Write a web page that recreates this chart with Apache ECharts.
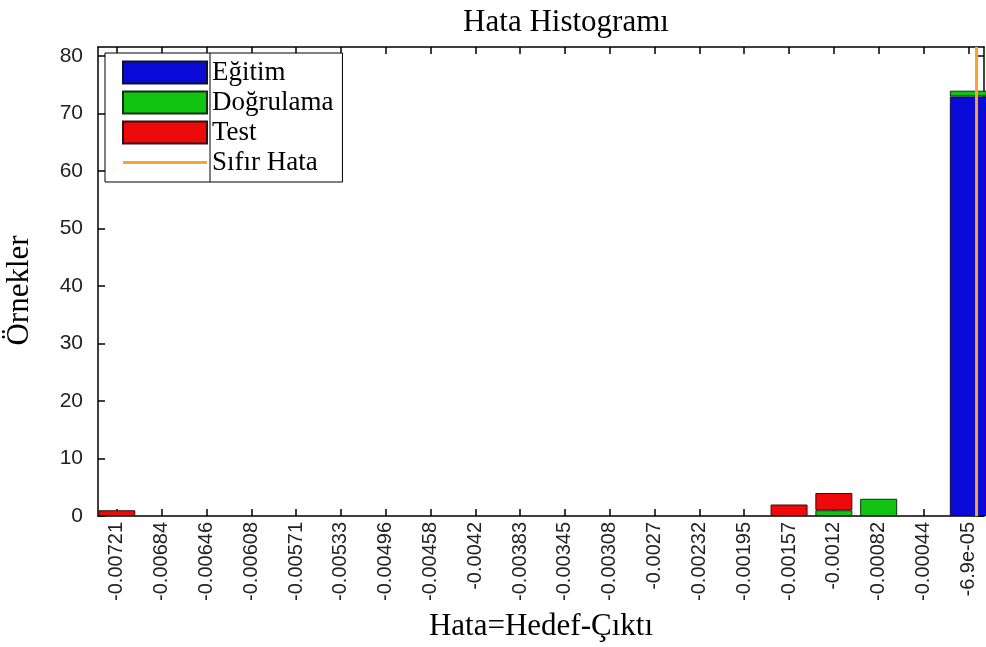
<!DOCTYPE html>
<html>
<head>
<meta charset="utf-8">
<script src="https://cdn.jsdelivr.net/npm/echarts@6/dist/echarts.min.js"></script>
<style>
  html, body { margin: 0; padding: 0; background: #fff; }
  #chart { width: 986px; height: 647px; }
</style>
</head>
<body>
<div id="chart"></div>
<script>
// bin centres (error = target - output)
const binLabels = ['-0.00721', '-0.00684', '-0.00646', '-0.00608', '-0.00571', '-0.00533', '-0.00496',
  '-0.00458', '-0.0042', '-0.00383', '-0.00345', '-0.00308', '-0.0027', '-0.00232', '-0.00195',
  '-0.00157', '-0.0012', '-0.00082', '-0.00044', '-6.9e-05'];
const training   = [0, 0, 0, 0, 0, 0, 0, 0, 0, 0, 0, 0, 0, 0, 0, 0, 0, 0, 0, 73];
const validation = [0, 0, 0, 0, 0, 0, 0, 0, 0, 0, 0, 0, 0, 0, 0, 0, 1, 3, 0, 1];
const test       = [1, 0, 0, 0, 0, 0, 0, 0, 0, 0, 0, 0, 0, 0, 0, 2, 3, 0, 0, 0];
const yTicks = [0, 10, 20, 30, 40, 50, 60, 70, 80];
const yMax = 81.6;

// where error = 0 falls, in bin-index units
const first = parseFloat(binLabels[0]);
const last = parseFloat(binLabels[binLabels.length - 1]);
const binStep = (last - first) / (binLabels.length - 1);
const zeroPos = (0 - first) / binStep;

const idx = binLabels.map((_, i) => i);
// count first, bin index second, so the stack adds up the counts
const toPairs = arr => arr.map((v, i) => [v || null, i]);

const xMin = -0.42, xMax = 19.35;
const serif = '"Liberation Serif", "Times New Roman", serif';
const sans = '"Liberation Sans", Arial, sans-serif';
const black = { color: '#000', width: 1.5 };

const chart = echarts.init(document.getElementById('chart'));
chart.setOption({
  animation: false,
  backgroundColor: '#fff',
  title: {
    text: 'Hata Histogramı',
    left: 561, top: 2, textAlign: 'center',
    textStyle: { fontFamily: serif, fontSize: 31, fontWeight: 'normal', color: '#000' }
  },
  legend: {
    left: 105, top: 53,
    orient: 'vertical',
    backgroundColor: '#fff',
    borderColor: '#000', borderWidth: 1,
    padding: [6, 9, 6, 17],
    itemWidth: 84, itemHeight: 22, itemGap: 3,
    textStyle: { fontFamily: serif, fontSize: 27, color: '#000' },
    data: [
      { name: 'Eğitim', icon: 'rect' },
      { name: 'Doğrulama', icon: 'rect' },
      { name: 'Test', icon: 'rect' },
      { name: 'Sıfır Hata', icon: 'path://M0,0H84V3H0Z', itemStyle: { borderWidth: 0 } }
    ]
  },
  grid: { left: 98, right: 2, top: 47, bottom: 131, outerBoundsMode: 'none' },
  xAxis: [{
    type: 'value', min: xMin, max: xMax,
    name: 'Hata=Hedef-Çıktı', nameLocation: 'middle', nameGap: 95,
    nameTextStyle: { fontFamily: serif, fontSize: 31, color: '#000' },
    axisLine: { onZero: false, lineStyle: black },
    axisTick: { inside: true, length: 7, customValues: idx, lineStyle: black },
    axisLabel: {
      customValues: idx, rotate: 90, margin: 6,
      fontFamily: sans, fontSize: 20, color: '#222',
      formatter: v => binLabels[Math.round(v)]
    },
    splitLine: { show: false }
  }, {
    type: 'value', min: xMin, max: xMax, position: 'top',
    axisLine: { onZero: false, lineStyle: black },
    axisTick: { inside: true, length: 7, customValues: idx, lineStyle: black },
    axisLabel: { show: false },
    splitLine: { show: false }
  }],
  yAxis: [{
    type: 'value', min: 0, max: yMax,
    name: 'Örnekler', nameLocation: 'middle', nameGap: 63, nameRotate: 90,
    nameTextStyle: { fontFamily: serif, fontSize: 31, color: '#000', padding: [0, 18, 0, 0] },
    axisLine: { show: true, onZero: false, lineStyle: black },
    axisTick: { inside: true, length: 7, customValues: yTicks, lineStyle: black },
    axisLabel: { customValues: yTicks, margin: 15, fontFamily: sans, fontSize: 21, color: '#222' },
    splitLine: { show: false }
  }, {
    type: 'value', min: 0, max: yMax, position: 'right',
    axisLine: { show: true, onZero: false, lineStyle: black },
    axisTick: { inside: true, length: 7, customValues: yTicks, lineStyle: black },
    axisLabel: { show: false },
    splitLine: { show: false }
  }],
  series: [{
    name: 'Eğitim', type: 'bar', stack: 'hist', barWidth: 37,
    encode: { x: 1, y: 0 },
    itemStyle: { color: '#0a0ad8', borderColor: '#101030', borderWidth: 1 },
    data: toPairs(training)
  }, {
    name: 'Doğrulama', type: 'bar', stack: 'hist', barWidth: 37,
    encode: { x: 1, y: 0 },
    itemStyle: { color: '#12c412', borderColor: '#103010', borderWidth: 1 },
    data: toPairs(validation)
  }, {
    name: 'Test', type: 'bar', stack: 'hist', barWidth: 37,
    encode: { x: 1, y: 0 },
    itemStyle: { color: '#ee0a0a', borderColor: '#301010', borderWidth: 1 },
    data: toPairs(test)
  }, {
    name: 'Sıfır Hata', type: 'line', symbol: 'none', z: 5,
    lineStyle: { color: '#f5a33a', width: 3 },
    itemStyle: { color: '#f5a33a' },
    data: [[zeroPos, 0], [zeroPos, yMax]]
  }],
  graphic: [{
    type: 'line', z: 100,
    shape: { x1: 210, y1: 53, x2: 210, y2: 182 },
    style: { stroke: '#000', lineWidth: 1 }
  }]
});
</script>
</body>
</html>
